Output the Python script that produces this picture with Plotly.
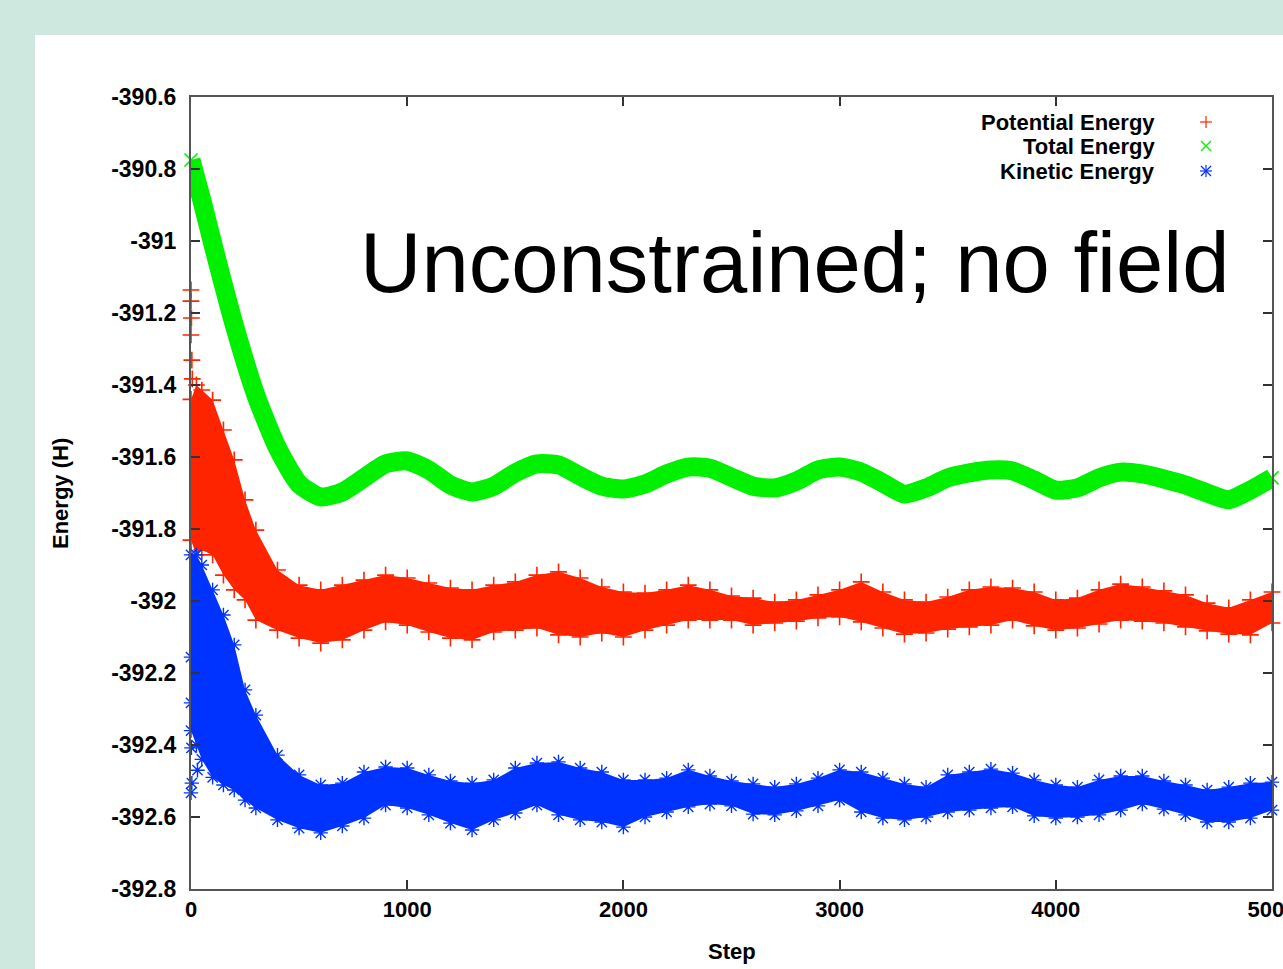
import plotly.graph_objects as go

# ---------------- data ----------------
x_tick_vals = [0, 1000, 2000, 3000, 4000, 5000]
x_tick_text = ["0", "1000", "2000", "3000", "4000", "5000"]
y_tick_vals = [-390.6, -390.8, -391.0, -391.2, -391.4, -391.6, -391.8, -392.0,
               -392.2, -392.4, -392.6, -392.8]
y_tick_text = ["-390.6", "-390.8", "-391", "-391.2", "-391.4", "-391.6", "-391.8",
               "-392", "-392.2", "-392.4", "-392.6", "-392.8"]

series_names = ["Potential Energy", "Total Energy", "Kinetic Energy"]

# Total energy (smooth curve)
total_steps = [0, 50] + list(range(100, 5001, 100))
total_energy = [
    -390.775, -390.886, -391.006, -391.233, -391.428, -391.575, -391.675, -391.711,
    -391.697, -391.658, -391.619, -391.611, -391.636, -391.678, -391.697, -391.681,
    -391.644, -391.619, -391.622, -391.653, -391.681, -391.689, -391.675, -391.647,
    -391.628, -391.631, -391.656, -391.681, -391.686, -391.667, -391.636, -391.628,
    -391.642, -391.672, -391.703, -391.686, -391.658, -391.644, -391.636, -391.639,
    -391.664, -391.692, -391.686, -391.658, -391.642, -391.647, -391.661, -391.678,
    -391.700, -391.719, -391.692, -391.658]

# Noisy series: upper and lower edges of the scattered band
band_steps = [0, 25, 50, 100, 150, 200, 250, 300] + list(range(400, 5001, 100))

potential_upper = [
    -391.440, -391.400, -391.414, -391.442, -391.525, -391.608, -391.719, -391.803,
    -391.914, -391.956, -391.969, -391.956, -391.942, -391.928, -391.936, -391.950,
    -391.964, -391.969, -391.956, -391.947, -391.928, -391.919, -391.936, -391.961,
    -391.975, -391.978, -391.969, -391.956, -391.969, -391.986, -391.992, -392.003,
    -391.997, -391.983, -391.969, -391.947, -391.975, -391.997, -392.003, -391.989,
    -391.969, -391.961, -391.964, -391.975, -391.997, -391.992, -391.969, -391.953,
    -391.961, -391.972, -391.983, -392.006, -392.019, -391.997, -391.975]
potential_lower = [
    -391.831, -391.872, -391.858, -391.872, -391.928, -391.969, -391.997, -392.053,
    -392.081, -392.103, -392.117, -392.108, -392.081, -392.058, -392.067, -392.086,
    -392.103, -392.108, -392.086, -392.081, -392.075, -392.094, -392.100, -392.089,
    -392.100, -392.081, -392.067, -392.053, -392.053, -392.053, -392.067, -392.061,
    -392.056, -392.047, -392.044, -392.058, -392.075, -392.092, -392.089, -392.078,
    -392.072, -392.067, -392.053, -392.069, -392.081, -392.075, -392.064, -392.053,
    -392.056, -392.061, -392.072, -392.083, -392.092, -392.094, -392.061]

kinetic_upper = [
    -391.872, -391.872, -391.900, -391.969, -392.039, -392.122, -392.247, -392.317,
    -392.428, -392.483, -392.511, -392.506, -392.475, -392.461, -392.464, -392.483,
    -392.500, -392.506, -392.497, -392.464, -392.450, -392.447, -392.464, -392.475,
    -392.497, -392.497, -392.492, -392.469, -392.486, -392.500, -392.508, -392.517,
    -392.508, -392.492, -392.469, -392.475, -392.492, -392.508, -392.517, -392.483,
    -392.475, -392.467, -392.478, -392.497, -392.511, -392.517, -392.497, -392.486,
    -392.486, -392.500, -392.511, -392.525, -392.517, -392.506, -392.503]
kinetic_lower = [
    -392.360, -392.400, -392.440, -392.490, -392.511, -392.525, -392.553, -392.575,
    -392.608, -392.631, -392.644, -392.625, -392.603, -392.567, -392.575, -392.594,
    -392.617, -392.636, -392.608, -392.589, -392.567, -392.594, -392.608, -392.614,
    -392.628, -392.600, -392.586, -392.572, -392.564, -392.569, -392.592, -392.594,
    -392.583, -392.569, -392.553, -392.586, -392.603, -392.608, -392.600, -392.586,
    -392.581, -392.575, -392.572, -392.597, -392.603, -392.600, -392.594, -392.581,
    -392.564, -392.578, -392.594, -392.614, -392.614, -392.603, -392.581]

# isolated early points
potential_early_steps = [0, 0, 0, 2, 4, 6]
potential_early = [-391.136, -391.167, -391.261, -391.214, -391.331, -391.383]
kinetic_early_steps = [0, 0, 2, 4, 0, 30]
kinetic_early = [-392.156, -392.283, -392.408, -392.506, -392.533, -392.470]

# ---------------- style ----------------
RED = "#ff2400"
GREEN = "#00f000"
BLUE = "#0033ff"
BG = "#cfe8df"
FONT = "Liberation Sans, Arial, sans-serif"

W, H = 1283, 969
L, R, T, B = 191, 11, 97, 80
PW, PH = W - L - R, H - T - B


def px(x):
    return (x - L) / PW


def py(y):
    return (H - B - y) / PH


fig = go.Figure()

# Potential energy band
fig.add_trace(go.Scatter(
    x=band_steps + band_steps[::-1], y=potential_upper + potential_lower[::-1],
    mode="lines", fill="toself", fillcolor=RED, line=dict(width=0, color=RED),
    hoverinfo="skip", showlegend=False))
fig.add_trace(go.Scatter(
    x=band_steps + band_steps + potential_early_steps,
    y=potential_upper + potential_lower + potential_early,
    mode="markers", cliponaxis=False, name=series_names[0],
    marker=dict(symbol="cross-thin", size=12, line=dict(width=1.6, color=RED), color=RED),
    showlegend=False))

# Kinetic energy band
fig.add_trace(go.Scatter(
    x=band_steps + band_steps[::-1], y=kinetic_upper + kinetic_lower[::-1],
    mode="lines", fill="toself", fillcolor=BLUE, line=dict(width=0, color=BLUE),
    hoverinfo="skip", showlegend=False))
fig.add_trace(go.Scatter(
    x=band_steps + band_steps + kinetic_early_steps,
    y=kinetic_upper + kinetic_lower + kinetic_early,
    mode="markers", cliponaxis=False, name=series_names[2],
    marker=dict(symbol="asterisk-open", size=12, line=dict(width=1.4, color=BLUE), color=BLUE),
    showlegend=False))

# Total energy (thick band of x markers)
fig.add_trace(go.Scatter(
    x=total_steps, y=total_energy, mode="lines+markers", cliponaxis=False,
    name=series_names[1],
    line=dict(color=GREEN, width=19, shape="spline", smoothing=0.6),
    marker=dict(symbol="x-thin-open", size=13, line=dict(width=1.6, color=GREEN), color=GREEN),
    showlegend=False))

shapes = []
# white slide panel
shapes.append(dict(type="rect", xref="paper", yref="paper",
                   x0=px(35), x1=px(W + 10), y0=py(H + 10), y1=py(35),
                   fillcolor="white", line=dict(width=0), layer="below"))


def seg(x0, y0, x1, y1, color):
    return dict(type="line", xref="paper", yref="paper",
                x0=px(x0), y0=py(y0), x1=px(x1), y1=py(y1),
                line=dict(color=color, width=1.2), layer="above")


cx = 1206
shapes += [seg(cx - 6, 122, cx + 6, 122, RED), seg(cx, 116, cx, 128, RED)]
shapes += [seg(cx - 5, 141, cx + 5, 151, GREEN), seg(cx - 5, 151, cx + 5, 141, GREEN)]
shapes += [seg(cx - 6, 171, cx + 6, 171, BLUE), seg(cx, 165, cx, 177, BLUE),
           seg(cx - 5, 166, cx + 5, 176, BLUE), seg(cx - 5, 176, cx + 5, 166, BLUE)]

annotations = []
for name, yy in zip(series_names, [122, 146, 171]):
    annotations.append(dict(x=px(1157), y=py(yy), xref="paper", yref="paper",
                            text=name, showarrow=False, xanchor="right", yanchor="middle",
                            font=dict(family=FONT, size=22, color="black", weight="bold")))

annotations.append(dict(x=px(358), y=py(262), xref="paper", yref="paper",
                        text="Unconstrained; no field", showarrow=False,
                        xanchor="left", yanchor="middle",
                        font=dict(family=FONT, size=85, color="black")))

annotations.append(dict(x=px(60), y=py(494), xref="paper", yref="paper",
                        text="Energy (H)", showarrow=False, textangle=-90,
                        xanchor="center", yanchor="middle",
                        font=dict(family=FONT, size=22, color="black", weight="bold")))
annotations.append(dict(x=px(732), y=py(951), xref="paper", yref="paper",
                        text="Step", showarrow=False,
                        xanchor="center", yanchor="middle",
                        font=dict(family=FONT, size=22, color="black", weight="bold")))

axis_common = dict(showgrid=False, zeroline=False, showline=True, linecolor="#555555",
                   linewidth=2, mirror="ticks", ticks="inside", ticklen=9, tickwidth=1.5,
                   tickcolor="#333333", ticklabeloverflow="allow")

fig.update_layout(
    width=W, height=H, margin=dict(l=L, r=R, t=T, b=B, autoexpand=False),
    paper_bgcolor=BG, plot_bgcolor="white", showlegend=False,
    font=dict(family=FONT, color="black"),
    xaxis=dict(range=[0, 5000], tickmode="array", tickvals=x_tick_vals,
               ticktext=x_tick_text, automargin=False,
               tickfont=dict(family=FONT, size=22, color="black", weight="bold"),
               **axis_common),
    yaxis=dict(range=[-392.8, -390.6], tickmode="array", tickvals=y_tick_vals,
               ticktext=y_tick_text, automargin=False, ticklabelstandoff=8,
               tickfont=dict(family=FONT, size=23, color="black", weight="bold"),
               **axis_common),
    shapes=shapes, annotations=annotations,
)

fig.write_html("out.html", config={"displayModeBar": False},
               post_script="document.body.style.margin='0px';document.body.style.padding='0px';")
